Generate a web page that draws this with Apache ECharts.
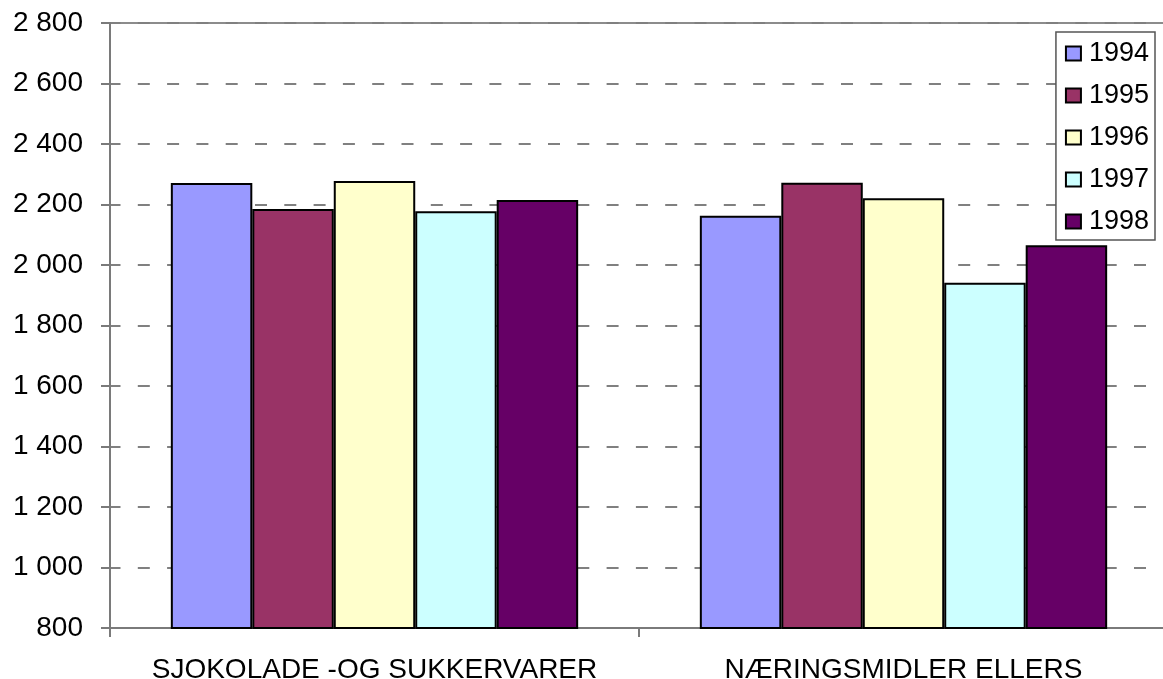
<!DOCTYPE html>
<html>
<head>
<meta charset="utf-8">
<script src="https://cdn.jsdelivr.net/npm/echarts@6/dist/echarts.min.js"></script>
<style>
    html, body { margin: 0; padding: 0; background: #fff; }
    #chart { width: 1163px; height: 679px; }
</style>
</head>
<body>
<div id="chart"></div>
<script>
// kategorier og verdier lest av bildet
var categories = ['SJOKOLADE -OG SUKKERVARER', 'NÆRINGSMIDLER ELLERS'];
var years = ['1994', '1995', '1996', '1997', '1998'];
var v1994 = [2271, 2163];
var v1995 = [2185, 2272];
var v1996 = [2278, 2221];
var v1997 = [2178, 1941];
var v1998 = [2215, 2065];
var yMin = 800;
var yMax = 2800;
var yStep = 200;

var seriesValues = [v1994, v1995, v1996, v1997, v1998];
var colors = ['#9999FF', '#993366', '#FFFFCC', '#CCFFFF', '#660066'];
var FONT = '"Liberation Sans", Arial, sans-serif';

/**
 * tusenskille med mellomrom: 2800 -> "2 800"
 */
function formatNumber(value) {
    return String(value).replace(/\B(?=(\d{3})+(?!\d))/g, ' ');
}

var myChart = echarts.init(document.getElementById('chart'), null, {renderer: 'canvas'});

var series = [];
for (var i = 0; i < years.length; i++) {
    series.push({
        name: years[i],
        type: 'bar',
        data: seriesValues[i],
        barGap: '0%',
        barCategoryGap: '23%',
        itemStyle: {
            color: colors[i],
            borderColor: '#000',
            borderWidth: 2
        },
        animation: false
    });
}

var option = {
    animation: false,
    grid: {
        left: 110,
        right: -5,
        top: 23,
        bottom: 51,
        outerBoundsMode: 'none',
        containLabel: false,
        show: true,
        borderColor: '#8c8c8c',
        borderWidth: 2,
        backgroundColor: 'transparent'
    },
    legend: {
        orient: 'vertical',
        right: 8,
        top: 32,
        data: years,
        icon: 'rect',
        itemWidth: 15,
        itemHeight: 14,
        itemGap: 15,
        padding: [8, 6, 5, 9],
        backgroundColor: '#fff',
        borderColor: '#555',
        borderWidth: 1.5,
        itemStyle: {
            borderColor: '#000',
            borderWidth: 2
        },
        textStyle: {
            fontFamily: FONT,
            fontSize: 27,
            lineHeight: 26,
            color: '#000',
            padding: [0, 0, 0, 3]
        }
    },
    xAxis: {
        type: 'category',
        data: categories,
        axisLine: {lineStyle: {color: '#7a7a7a', width: 2}},
        axisTick: {show: true, length: 9, lineStyle: {color: '#7a7a7a', width: 2}},
        axisLabel: {
            interval: 0,
            fontFamily: FONT,
            fontSize: 28,
            lineHeight: 28,
            color: '#000',
            margin: 28
        },
        splitLine: {show: false}
    },
    yAxis: {
        type: 'value',
        min: yMin,
        max: yMax,
        interval: yStep,
        axisLine: {show: true, lineStyle: {color: '#7a7a7a', width: 2}},
        axisTick: {show: true, length: 9, lineStyle: {color: '#7a7a7a', width: 2}},
        axisLabel: {
            fontFamily: FONT,
            fontSize: 28,
            color: '#000',
            margin: 27,
            formatter: formatNumber
        },
        splitLine: {
            show: true,
            lineStyle: {
                color: '#808080',
                width: 2,
                type: [12, 17.3],
                dashOffset: 1.5
            }
        }
    },
    series: series
};

myChart.setOption(option, true);
</script>
</body>
</html>
